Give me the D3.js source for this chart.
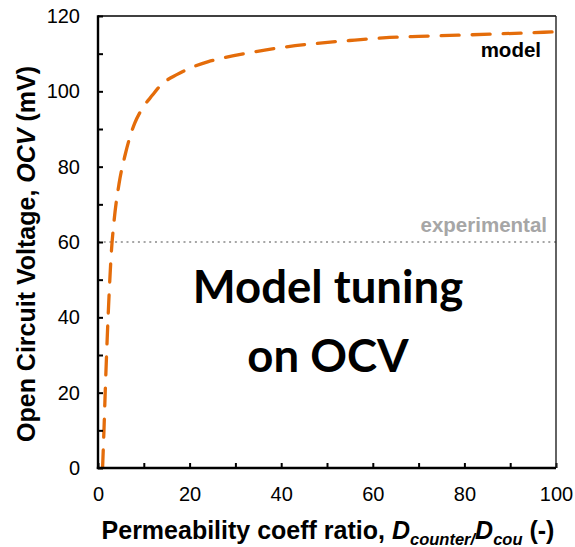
<!DOCTYPE html>
<html>
<head>
<meta charset="utf-8">
<script src="https://cdn.jsdelivr.net/npm/d3@7"></script>
<style>
  body { margin: 0; background: #fff; }
  text { font-family: "Liberation Sans", Arial, sans-serif; }
</style>
</head>
<body>
<div id="chart"></div>
<script>
// model curve
const ratio = [1.0, 1.3, 1.6, 1.9, 2.2, 2.5, 2.9, 3.5, 4.6, 6.0, 8.0, 9.2, 11.9, 13.6, 17.3,
               20.2, 24.1, 26.4, 33.3, 40.6, 47.6, 54.9, 62.2, 70, 78.7, 86, 93.2, 100];
const ocv = [0, 10, 21, 31, 40, 48, 57, 65.5, 75.5, 83.5, 91.5, 94.5, 99, 101.5, 104.5,
             106.2, 107.9, 108.6, 110.3, 111.7, 112.7, 113.5, 114.2, 114.6, 114.9, 115.2, 115.5, 115.8];
const experimental = 60;
const xTicks = [0, 10, 20, 30, 40, 50, 60, 70, 80, 90, 100];
const yTicks = [0, 10, 20, 30, 40, 50, 60, 70, 80, 90, 100, 110, 120];

const width = 575;
const height = 547;
const margin = {top: 16, right: 19, bottom: 79, left: 98};
const orange = '#E46C0A';

const svg = d3.select('#chart')
  .append('svg')
  .attr('width', width)
  .attr('height', height);

const x = d3.scaleLinear().domain([0, 100]).range([margin.left, width - margin.right]);
const y = d3.scaleLinear().domain([0, 120]).range([height - margin.bottom, margin.top]);

svg.append('clipPath')
  .attr('id', 'plot')
  .append('rect')
  .attr('x', x(0))
  .attr('y', y(120))
  .attr('width', x(100) - x(0))
  .attr('height', y(0) - y(120));

// experimental line
svg.append('line')
  .attr('x1', x(0))
  .attr('x2', x(100))
  .attr('y1', y(experimental))
  .attr('y2', y(experimental))
  .attr('stroke', '#a6a6a6')
  .attr('stroke-width', 2)
  .attr('stroke-dasharray', '2 3.7');

const data = ratio.map((r, i) => [r, ocv[i]]);
svg.append('path')
  .datum(data)
  .attr('clip-path', 'url(#plot)')
  .attr('fill', 'none')
  .attr('stroke', orange)
  .attr('stroke-width', 3.3)
  .attr('stroke-linecap', 'round')
  .attr('stroke-dasharray', '18 13')
  .attr('d', d3.line().x(d => x(d[0])).y(d => y(d[1])).curve(d3.curveMonotoneX));

// axes
const xAxis = svg.append('g')
  .attr('transform', `translate(0,${y(0)})`)
  .call(d3.axisBottom(x).tickValues(xTicks).tickSize(-5).tickPadding(19)
    .tickFormat(d => d % 20 === 0 ? d : ''));
const yAxis = svg.append('g')
  .attr('transform', `translate(${x(0)},0)`)
  .call(d3.axisLeft(y).tickValues(yTicks).tickSize(-5).tickPadding(18)
    .tickFormat(d => d % 20 === 0 ? d : ''));
[xAxis, yAxis].forEach(g => {
  g.select('.domain').remove();
  g.selectAll('.tick line').attr('stroke', '#000').attr('stroke-width', 2);
  g.selectAll('.tick text')
    .attr('fill', '#000')
    .style('font-family', '"Liberation Sans", Arial, sans-serif')
    .style('font-size', '20px');
});

// frame
svg.append('line')
  .attr('x1', x(0)).attr('x2', x(100))
  .attr('y1', y(120)).attr('y2', y(120))
  .attr('stroke', '#000').attr('stroke-width', 1.6);
svg.append('line')
  .attr('x1', x(100)).attr('x2', x(100))
  .attr('y1', y(120)).attr('y2', y(0))
  .attr('stroke', '#222').attr('stroke-width', 1.4);
svg.append('line')
  .attr('x1', x(0)).attr('x2', x(0))
  .attr('y1', y(120) - 0.8).attr('y2', y(0) + 1.1)
  .attr('stroke', '#000').attr('stroke-width', 2.4);
svg.append('line')
  .attr('x1', x(0) - 1.2).attr('x2', x(100))
  .attr('y1', y(0)).attr('y2', y(0))
  .attr('stroke', '#000').attr('stroke-width', 2.4);

// series labels
svg.append('text')
  .attr('x', 541)
  .attr('y', 57)
  .attr('text-anchor', 'end')
  .attr('font-weight', 'bold')
  .attr('font-size', 20.5)
  .text('model');
svg.append('text')
  .attr('x', 547)
  .attr('y', 232)
  .attr('text-anchor', 'end')
  .attr('font-weight', 'bold')
  .attr('font-size', 20.5)
  .attr('fill', '#a6a6a6')
  .text('experimental');

// big annotation
const note = svg.append('text')
  .attr('text-anchor', 'middle')
  .attr('font-weight', 'bold')
  .attr('font-size', 45.5)
  .style('font-family', 'Lato, "Open Sans", sans-serif');
note.append('tspan').attr('x', 328).attr('y', 303).text('Model tuning');
note.append('tspan').attr('x', 328).attr('y', 372).text('on OCV');

// axis titles
const xt = svg.append('text')
  .attr('x', (103 + 553) / 2)
  .attr('y', 539)
  .attr('text-anchor', 'middle')
  .attr('font-weight', 'bold')
  .attr('font-size', 25);
xt.append('tspan').text('Permeability coeff ratio, ');
xt.append('tspan').attr('font-style', 'italic').text('D');
xt.append('tspan').attr('font-style', 'italic').attr('font-size', 16.5).attr('dy', 6).text('counter/');
xt.append('tspan').attr('font-style', 'italic').attr('dy', -6).text('D');
xt.append('tspan').attr('font-style', 'italic').attr('font-size', 16.5).attr('dy', 6).text('cou');
xt.append('tspan').attr('dy', -6).text(' (-)');

const yt = svg.append('text')
  .attr('transform', 'translate(35,254) rotate(-90)')
  .attr('text-anchor', 'middle')
  .attr('font-weight', 'bold')
  .attr('font-size', 25);
yt.append('tspan').text('Open Circuit Voltage, ');
yt.append('tspan').attr('font-style', 'italic').text('OCV');
yt.append('tspan').text(' (mV)');
</script>
</body>
</html>
